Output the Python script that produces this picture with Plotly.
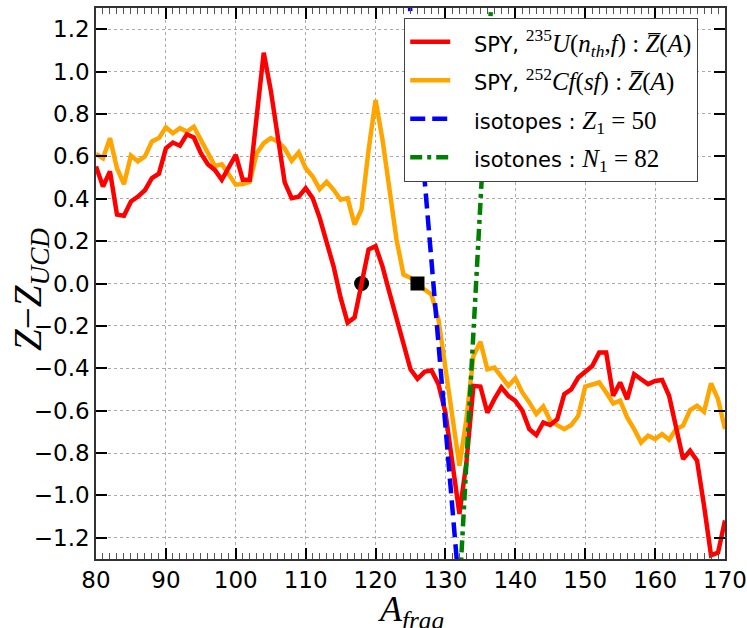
import plotly.graph_objects as go

# ---- data ----
A = list(range(80, 171))

red_dz = [0.552, 0.458, 0.529, 0.325, 0.32, 0.387, 0.41, 0.44, 0.497, 0.518,
          0.638, 0.665, 0.65, 0.704, 0.689, 0.615, 0.563, 0.536, 0.489, 0.545,
          0.607, 0.489, 0.489, 0.79, 1.089, 0.913, 0.678, 0.477, 0.403, 0.41,
          0.45, 0.403, 0.31, 0.19, 0.08, -0.067, -0.185, -0.16, 0.0, 0.16,
          0.176, 0.08, -0.044, -0.17, -0.28, -0.405, -0.45, -0.417, -0.41, -0.475,
          -0.61, -0.845, -1.087, -0.845, -0.483, -0.486, -0.61, -0.546, -0.49, -0.53,
          -0.554, -0.6, -0.687, -0.715, -0.656, -0.668, -0.64, -0.522, -0.5, -0.444,
          -0.417, -0.389, -0.326, -0.326, -0.53, -0.467, -0.546, -0.428, -0.452, -0.475,
          -0.46, -0.455, -0.53, -0.67, -0.828, -0.789, -0.836, -1.048, -1.283, -1.27,
          -1.118]

orange_dz = [0.612, 0.591, 0.686, 0.544, 0.469, 0.604, 0.576, 0.6, 0.67, 0.686,
             0.737, 0.709, 0.733, 0.717, 0.74, 0.68, 0.623, 0.555, 0.563, 0.513,
             0.466, 0.469, 0.48, 0.615, 0.662, 0.686, 0.67, 0.638, 0.579, 0.618,
             0.544, 0.505, 0.445, 0.48, 0.442, 0.395, 0.403, 0.278, 0.351, 0.63,
             0.866, 0.678, 0.458, 0.207, 0.042, 0.027, -0.005, -0.028, -0.052, -0.17,
             -0.39, -0.61, -0.86, -0.64, -0.342, -0.275, -0.405, -0.397, -0.436, -0.483,
             -0.447, -0.514, -0.561, -0.616, -0.58, -0.648, -0.668, -0.687, -0.668, -0.624,
             -0.486, -0.475, -0.467, -0.514, -0.566, -0.553, -0.632, -0.687, -0.75, -0.718,
             -0.734, -0.71, -0.737, -0.687, -0.671, -0.597, -0.577, -0.605, -0.471, -0.546,
             -0.687]

# isotope / isotone straight lines (end points)
iso_A = [124.0, 132.5]
iso_dz = [1.666, -1.648]
ison_A = [131.5, 137.5]
ison_dz = [-1.759, 1.902]

circle_A = [118]
circle_dz = [0.0]
square_A = [126]
square_dz = [0.0]

x_ticks = [80, 90, 100, 110, 120, 130, 140, 150, 160, 170]
y_ticks = [-1.2, -1.0, -0.8, -0.6, -0.4, -0.2, 0.0, 0.2, 0.4, 0.6, 0.8, 1.0, 1.2]

SERIF = "Liberation Serif"
SANS = "DejaVu Sans"

def s(t):
    return '<span style="font-family:%s;font-size:21px">%s</span>' % (SANS, t)

GAP = "&nbsp;&nbsp;&nbsp;"
lab_red = GAP + s("SPY, ") + "<sup>235</sup><i>U</i>(<i>n</i><sub><i>th</i></sub>,<i>f</i>) : <i>Z\u0305</i>(<i>A</i>)"
lab_orange = GAP + s("SPY, ") + "<sup>252</sup><i>Cf</i>(<i>sf</i>) : <i>Z\u0305</i>(<i>A</i>)"
lab_blue = GAP + s("isotopes : ") + "<i>Z</i><sub>1</sub> = 50"
lab_green = GAP + s("isotones : ") + "<i>N</i><sub>1</sub> = 82"

fig = go.Figure()
fig.add_trace(go.Scatter(x=A, y=orange_dz, mode="lines", name=lab_orange, legendrank=2,
                         legendgroup="b", line=dict(color="#ffa500", width=4.5)))
fig.add_trace(go.Scatter(x=square_A, y=square_dz, mode="markers", showlegend=False,
                         marker=dict(symbol="square", size=14, color="black")))
fig.add_trace(go.Scatter(x=circle_A, y=circle_dz, mode="markers", showlegend=False,
                         marker=dict(symbol="circle", size=15, color="black")))
fig.add_trace(go.Scatter(x=A, y=red_dz, mode="lines", name=lab_red, legendrank=1,
                         legendgroup="a", line=dict(color="#ff0000", width=4.5)))
fig.add_trace(go.Scatter(x=iso_A, y=iso_dz, mode="lines", name=lab_blue, legendrank=3,
                         legendgroup="c", line=dict(color="#0000ff", width=4.5, dash="15px,7px")))
fig.add_trace(go.Scatter(x=ison_A, y=ison_dz, mode="lines", name=lab_green, legendrank=4,
                         legendgroup="d", line=dict(color="#008000", width=4.5, dash="12px,5px,4px,5px")))

axis_common = dict(showline=True, linecolor="#333", linewidth=1.5, mirror="allticks",
                   ticks="inside", tickcolor="black", tickwidth=2, ticklen=11,
                   showgrid=True, gridcolor="#aaaaaa", griddash="dot", gridwidth=1,
                   zeroline=False, automargin=False,
                   tickfont=dict(family=SANS, size=23, color="black"))

fig.update_xaxes(range=[80, 170], tickvals=x_ticks, ticktext=[str(v) for v in x_ticks],
                 minor=dict(ticks="inside", dtick=1, ticklen=6, tickcolor="#555", tickwidth=1),
                 **axis_common)
fig.update_yaxes(range=[-1.3, 1.3], tickvals=y_ticks, tickformat=".1f", **axis_common)

fig.add_annotation(text="<i>A</i><sub><i>frag</i></sub>", xref="paper", yref="paper",
                   x=0.5, y=-0.05, xanchor="center", yanchor="top", showarrow=False,
                   font=dict(family=SERIF, size=36, color="black"))
fig.add_annotation(text="<i>Z</i>\u2212<i>Z</i><sub><i>UCD</i></sub>", xref="paper", yref="paper",
                   x=-0.105, y=0.49, xanchor="center", yanchor="middle", showarrow=False,
                   textangle=-90, font=dict(family=SERIF, size=39, color="black"))

fig.update_layout(
    width=747, height=628,
    margin=dict(l=96, r=22, t=8, b=69, autoexpand=False),
    plot_bgcolor="white", paper_bgcolor="white",
    font=dict(family=SANS, color="black"),
    legend=dict(x=0.4897, y=0.982, xanchor="left", yanchor="top",
                bgcolor="white", bordercolor="#444", borderwidth=1.2,
                font=dict(family=SERIF, size=25, color="black"),
                traceorder="grouped", tracegroupgap=3, itemwidth=40),
)

# remove the default page margin so the figure sits at the window's top-left corner
fig.write_html("out.html", config={"displayModeBar": False},
               post_script="document.body.style.margin='0px';")
